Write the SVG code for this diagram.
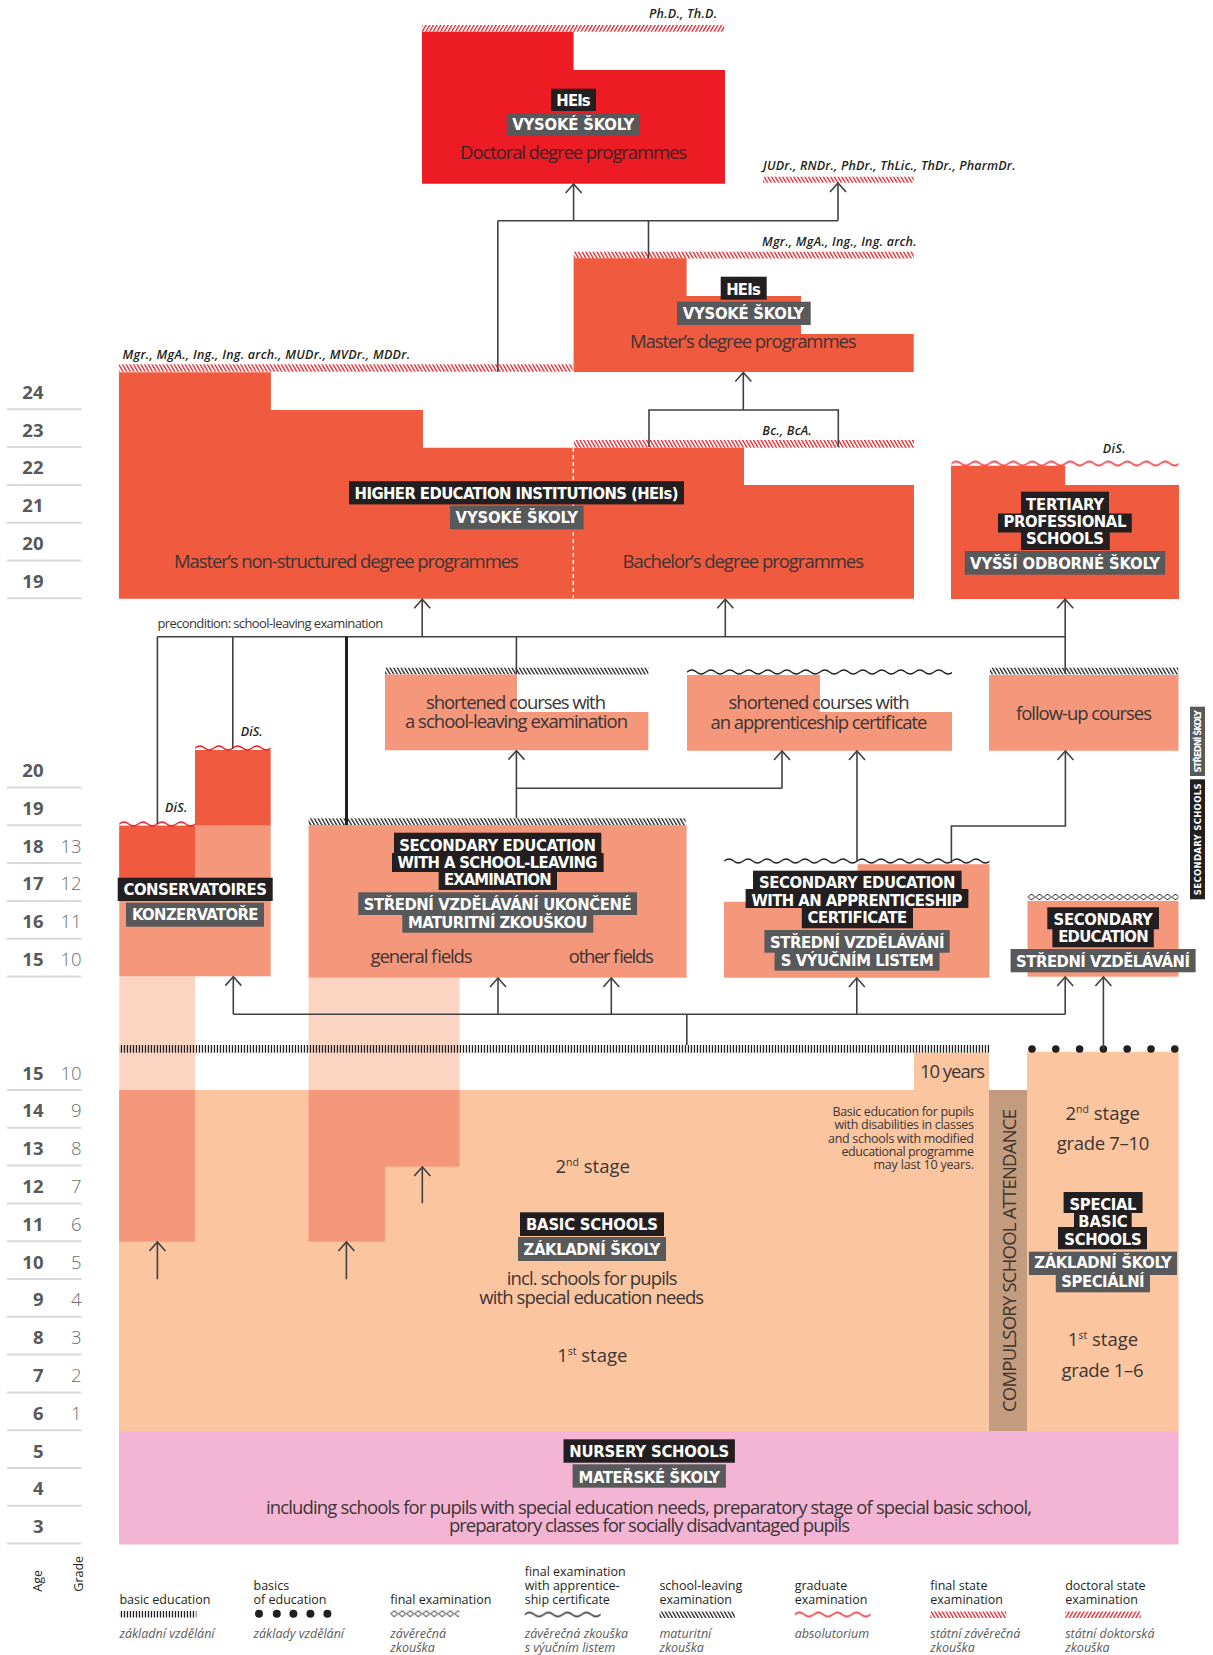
<svg xmlns="http://www.w3.org/2000/svg" width="1213" height="1655" viewBox="0 0 1213 1655">
<defs>
<style>
.ln{fill:none;stroke:#414042;stroke-width:1.6}
.tk{fill:none;stroke:#231f20;stroke-width:3}
.ar{marker-end:url(#ah)}
.bx{fill:#231f20}
.gb{fill:#58595b}
.lt{font-family:'DejaVu Sans Condensed','DejaVu Sans',sans-serif;font-stretch:condensed;font-weight:bold;font-size:16.5px;fill:#fff;text-anchor:middle}
.vt{font-family:'DejaVu Sans Condensed','DejaVu Sans',sans-serif;font-stretch:condensed;font-weight:bold;font-size:9.5px;fill:#fff;text-anchor:middle}
.bt{font-family:'Open Sans',sans-serif;font-weight:400;font-size:18.5px;fill:#3b3536;text-anchor:middle}
.sm{font-family:'Open Sans',sans-serif;font-weight:400;font-size:12.5px;fill:#3b3536;text-anchor:end}
.pc{font-family:'Open Sans',sans-serif;font-weight:400;font-size:13px;fill:#3b3536}
.dg{font-family:'Open Sans',sans-serif;font-style:italic;font-weight:600;font-size:12.5px;fill:#231f20}
.age{font-family:'Open Sans',sans-serif;font-weight:bold;font-size:18.5px;fill:#58595b;text-anchor:end}
.gr{font-family:'Open Sans',sans-serif;font-weight:300;font-size:18.5px;fill:#6d6e71;text-anchor:end}
.al{stroke:#d9d9d9;stroke-width:2}
.lg{font-family:'Open Sans',sans-serif;font-size:12.5px;fill:#231f20}
.lgi{font-family:'Open Sans',sans-serif;font-style:italic;font-size:12.5px;fill:#58595b}
.hei{fill:#f05a3e}
.sal{fill:#f5977a}
.pch{fill:#fbc5a0}
.lpc{fill:#fcd4c2}
</style>
<marker id="ah" markerUnits="userSpaceOnUse" markerWidth="20" markerHeight="20" viewBox="-10 -10 20 20" refX="0" refY="0" orient="auto" overflow="visible">
<path d="M-9,-8 L0,0 L-9,8" fill="none" stroke="#414042" stroke-width="1.6"/>
</marker>
<pattern id="hR" width="3.2" height="12" patternUnits="userSpaceOnUse" patternTransform="rotate(-30)"><rect width="1.3" height="12" fill="#ed1c24"/></pattern>
<pattern id="hD" width="3.2" height="12" patternUnits="userSpaceOnUse" patternTransform="rotate(30)"><rect width="1.3" height="12" fill="#ed1c24"/></pattern>
<pattern id="hK" width="3.2" height="12" patternUnits="userSpaceOnUse" patternTransform="rotate(-30)"><rect width="1.3" height="12" fill="#231f20"/></pattern>
<pattern id="wK" width="19" height="8" patternUnits="userSpaceOnUse"><path d="M-9.5,4 Q-4.75,8 0,4 T9.5,4 T19,4 T28.5,4" fill="none" stroke="#231f20" stroke-width="1.3"/></pattern>
<pattern id="wR" width="19" height="8" patternUnits="userSpaceOnUse"><path d="M-9.5,4 Q-4.75,8 0,4 T9.5,4 T19,4 T28.5,4" fill="none" stroke="#ed1c24" stroke-width="1.3"/></pattern>
<pattern id="dm" width="8" height="8" patternUnits="userSpaceOnUse"><path d="M0.5,4 L4,1 L7.5,4 L4,7 Z" fill="#fff" stroke="#231f20" stroke-width="1"/></pattern>
<pattern id="tc" width="3" height="8" patternUnits="userSpaceOnUse"><rect x="0.8" width="1.3" height="8" fill="#231f20"/></pattern>
</defs>
<rect width="1213" height="1655" fill="#fff"/>

<g id="age-scale">
<g class="al">
<line x1="7" y1="409.3" x2="81.5" y2="409.3"/><line x1="7" y1="447.1" x2="81.5" y2="447.1"/><line x1="7" y1="484.9" x2="81.5" y2="484.9"/><line x1="7" y1="522.7" x2="81.5" y2="522.7"/><line x1="7" y1="560.5" x2="81.5" y2="560.5"/><line x1="7" y1="598.3" x2="81.5" y2="598.3"/>
<line x1="7" y1="787.5" x2="81.5" y2="787.5"/><line x1="7" y1="825.3" x2="81.5" y2="825.3"/><line x1="7" y1="863.1" x2="81.5" y2="863.1"/><line x1="7" y1="900.9" x2="81.5" y2="900.9"/><line x1="7" y1="938.7" x2="81.5" y2="938.7"/><line x1="7" y1="976.5" x2="81.5" y2="976.5"/>
<line x1="7" y1="1090" x2="81.5" y2="1090"/><line x1="7" y1="1127.8" x2="81.5" y2="1127.8"/><line x1="7" y1="1165.6" x2="81.5" y2="1165.6"/><line x1="7" y1="1203.4" x2="81.5" y2="1203.4"/><line x1="7" y1="1241.2" x2="81.5" y2="1241.2"/><line x1="7" y1="1279" x2="81.5" y2="1279"/><line x1="7" y1="1316.8" x2="81.5" y2="1316.8"/><line x1="7" y1="1354.6" x2="81.5" y2="1354.6"/><line x1="7" y1="1392.4" x2="81.5" y2="1392.4"/><line x1="7" y1="1430.2" x2="81.5" y2="1430.2"/><line x1="7" y1="1468" x2="81.5" y2="1468"/><line x1="7" y1="1505.8" x2="81.5" y2="1505.8"/><line x1="7" y1="1543.6" x2="81.5" y2="1543.6"/>
</g>
<text class="age" x="43.5" y="398.8">24</text><text class="age" x="43.5" y="436.6">23</text><text class="age" x="43.5" y="474.4">22</text><text class="age" x="43.5" y="512.2">21</text><text class="age" x="43.5" y="550">20</text><text class="age" x="43.5" y="587.8">19</text>
<text class="age" x="43.5" y="777">20</text><text class="age" x="43.5" y="814.8">19</text><text class="age" x="43.5" y="852.6">18</text><text class="age" x="43.5" y="890.4">17</text><text class="age" x="43.5" y="928.2">16</text><text class="age" x="43.5" y="966">15</text>
<text class="gr" x="81.5" y="852.6">13</text><text class="gr" x="81.5" y="890.4">12</text><text class="gr" x="81.5" y="928.2">11</text><text class="gr" x="81.5" y="966">10</text>
<text class="age" x="43.5" y="1079.5">15</text><text class="age" x="43.5" y="1117.3">14</text><text class="age" x="43.5" y="1155.1">13</text><text class="age" x="43.5" y="1192.9">12</text><text class="age" x="43.5" y="1230.7">11</text><text class="age" x="43.5" y="1268.5">10</text><text class="age" x="43.5" y="1306.3">9</text><text class="age" x="43.5" y="1344.1">8</text><text class="age" x="43.5" y="1381.9">7</text><text class="age" x="43.5" y="1419.7">6</text><text class="age" x="43.5" y="1457.5">5</text><text class="age" x="43.5" y="1495.3">4</text><text class="age" x="43.5" y="1533.1">3</text>
<text class="gr" x="81.5" y="1079.5">10</text><text class="gr" x="81.5" y="1117.3">9</text><text class="gr" x="81.5" y="1155.1">8</text><text class="gr" x="81.5" y="1192.9">7</text><text class="gr" x="81.5" y="1230.7">6</text><text class="gr" x="81.5" y="1268.5">5</text><text class="gr" x="81.5" y="1306.3">4</text><text class="gr" x="81.5" y="1344.1">3</text><text class="gr" x="81.5" y="1381.9">2</text><text class="gr" x="81.5" y="1419.7">1</text>
</g>

<g id="nursery">
<rect x="119" y="1431" width="1059.6" height="113.5" fill="#f4b5d5"/>
<rect class="bx" x="563.5" y="1439.3" width="171.4" height="23.4"/>
<text class="lt" x="649.2" y="1456.7" textLength="160">NURSERY SCHOOLS</text>
<rect class="gb" x="572.6" y="1464.3" width="153.3" height="23.4"/>
<text class="lt" x="649.2" y="1482.5" textLength="141.5">MATEŘSKÉ ŠKOLY</text>
<text class="bt" x="649" y="1514" textLength="766">including schools for pupils with special education needs, preparatory stage of special basic school,</text>
<text class="bt" x="649.5" y="1531.7" textLength="401">preparatory classes for socially disadvantaged pupils</text>
</g>

<g id="basic-schools">
<rect class="pch" x="119" y="1090" width="870" height="341"/>
<rect class="pch" x="914" y="1052.7" width="75" height="38"/>
<rect class="lpc" x="119.3" y="976.3" width="75.7" height="113.7"/>
<rect class="lpc" x="308.6" y="977.7" width="150.9" height="112.3"/>
<rect class="sal" x="119.3" y="1090" width="75.7" height="151.7"/>
<rect class="sal" x="308.6" y="1090" width="150.9" height="76.7"/>
<rect class="sal" x="308.6" y="1166" width="76.5" height="75.7"/>
<rect x="119" y="1045" width="870.8" height="7.7" fill="url(#tc)"/>
<text class="bt" x="985" y="1078.3" style="text-anchor:end" textLength="65">10 years</text>
<text class="bt" x="592.7" y="1173" font-size="17.5">2<tspan font-size="10.5" dy="-7">nd</tspan><tspan dy="7"> stage</tspan></text>
<rect class="bx" x="520" y="1212.3" width="144" height="23.7"/>
<text class="lt" x="592" y="1229.8" textLength="132">BASIC SCHOOLS</text>
<rect class="gb" x="518" y="1237" width="148" height="24"/>
<text class="lt" x="592" y="1254.6" textLength="137">ZÁKLADNÍ ŠKOLY</text>
<text class="bt" x="592.2" y="1285" textLength="171">incl. schools for pupils</text>
<text class="bt" x="591.7" y="1303.5" textLength="225">with special education needs</text>
<text class="bt" x="592.3" y="1361.7" font-size="17.5">1<tspan font-size="10.5" dy="-7">st</tspan><tspan dy="7"> stage</tspan></text>
<text class="sm" x="974" y="1116" textLength="141.5">Basic education for pupils</text>
<text class="sm" x="974" y="1129.3" textLength="139.6">with disabilities in classes</text>
<text class="sm" x="974" y="1142.7" textLength="146">and schools with modified</text>
<text class="sm" x="974" y="1156" textLength="132.5">educational programme</text>
<text class="sm" x="974" y="1169" textLength="100.5">may last 10 years.</text>
</g>

<g id="compulsory">
<rect x="989" y="1090" width="38" height="341" fill="#c39b7f"/>
<text class="bt" transform="translate(1016,1260.5) rotate(-90)" x="0" y="0" font-size="21" style="fill:#3e342e" textLength="303">COMPULSORY SCHOOL ATTENDANCE</text>
</g>

<g id="special-basic">
<rect class="pch" x="1027" y="1051.7" width="151.6" height="379.3"/>
<g fill="#231f20"><circle cx="1032" cy="1049" r="3.8"/><circle cx="1055.8" cy="1049" r="3.8"/><circle cx="1079.6" cy="1049" r="3.8"/><circle cx="1103.4" cy="1049" r="3.8"/><circle cx="1127.2" cy="1049" r="3.8"/><circle cx="1151" cy="1049" r="3.8"/><circle cx="1174.8" cy="1049" r="3.8"/></g>
<text class="bt" x="1102.7" y="1120" font-size="17.5">2<tspan font-size="10.5" dy="-7">nd</tspan><tspan dy="7"> stage</tspan></text>
<text class="bt" x="1103" y="1150" textLength="92.7">grade 7–10</text>
<rect class="bx" x="1063.6" y="1192" width="79" height="21"/>
<rect class="bx" x="1074" y="1211" width="57.7" height="18"/>
<rect class="bx" x="1058" y="1227" width="89" height="22.3"/>
<text class="lt" x="1103" y="1210" textLength="67">SPECIAL</text>
<text class="lt" x="1103" y="1226.7" textLength="49.3">BASIC</text>
<text class="lt" x="1103" y="1245" textLength="77.4">SCHOOLS</text>
<rect class="gb" x="1028.9" y="1251.7" width="148.1" height="23.3"/>
<rect class="gb" x="1055.8" y="1274" width="94.2" height="18.3"/>
<text class="lt" x="1103" y="1268.3" textLength="137.5">ZÁKLADNÍ ŠKOLY</text>
<text class="lt" x="1103" y="1286.7" textLength="83.3">SPECIÁLNÍ</text>
<text class="bt" x="1103" y="1346" font-size="17.5">1<tspan font-size="10.5" dy="-7">st</tspan><tspan dy="7"> stage</tspan></text>
<text class="bt" x="1102.5" y="1376.7" textLength="82">grade 1–6</text>
</g>

<g id="conservatoires">
<rect class="sal" x="119.3" y="825.7" width="151.4" height="150.6"/>
<rect class="hei" x="195" y="750" width="75.7" height="75.7"/>
<rect class="hei" x="119.3" y="825.7" width="75.7" height="52.3"/>
<rect x="0" y="0" width="75.7" height="8" transform="translate(119.3,820)" fill="url(#wR)"/>
<rect x="0" y="0" width="75.7" height="8" transform="translate(195,744)" fill="url(#wR)"/>
<text class="dg" x="165" y="812.3" textLength="22.3">DiS.</text>
<text class="dg" x="240.7" y="736" textLength="22">DiS.</text>
<rect class="bx" x="117.7" y="877.7" width="155" height="23.3"/>
<text class="lt" x="195.2" y="895" textLength="143.4">CONSERVATOIRES</text>
<rect class="gb" x="126" y="902.7" width="138" height="24"/>
<text class="lt" x="195.2" y="920" textLength="126.6">KONZERVATOŘE</text>
</g>

<g id="secondary-school-leaving">
<rect x="308.6" y="818.3" width="377" height="6.9" fill="url(#hK)"/>
<rect class="sal" x="308.6" y="825" width="378" height="152.7"/>
<rect class="bx" x="394" y="832.7" width="207.3" height="22"/>
<rect class="bx" x="392" y="853" width="211.6" height="19"/>
<rect class="bx" x="438.7" y="871" width="118.3" height="19"/>
<text class="lt" x="497.6" y="851" textLength="196.7">SECONDARY EDUCATION</text>
<text class="lt" x="497.5" y="868.3" textLength="200">WITH A SCHOOL-LEAVING</text>
<text class="lt" x="497.8" y="885" textLength="107.6">EXAMINATION</text>
<rect class="gb" x="358.3" y="892.3" width="278.7" height="22.7"/>
<rect class="gb" x="402.3" y="914" width="191" height="18.7"/>
<text class="lt" x="497.7" y="910" textLength="268">STŘEDNÍ VZDĚLÁVÁNÍ UKONČENÉ</text>
<text class="lt" x="497.8" y="928.3" textLength="179.5">MATURITNÍ ZKOUŠKOU</text>
<text class="bt" x="421.5" y="963.3" textLength="102">general fields</text>
<text class="bt" x="611.3" y="963.3" textLength="85">other fields</text>
</g>

<g id="secondary-apprenticeship">
<rect x="0" y="0" width="265.3" height="8" transform="translate(724.2,857)" fill="url(#wK)"/>
<path class="sal" d="M724,901.7H857.6V864.3H989.5V977.7H724Z"/>
<rect class="bx" x="753" y="870.7" width="208.6" height="20"/>
<rect class="bx" x="745.6" y="889" width="222.8" height="19"/>
<rect class="bx" x="801.8" y="907" width="111.2" height="21.3"/>
<text class="lt" x="857.2" y="888.3" textLength="196.6">SECONDARY EDUCATION</text>
<text class="lt" x="856.9" y="906" textLength="211">WITH AN APPRENTICESHIP</text>
<text class="lt" x="857.4" y="922.7" textLength="99.6">CERTIFICATE</text>
<rect class="gb" x="764.4" y="930" width="185.3" height="22.7"/>
<rect class="gb" x="774.6" y="951.7" width="164.9" height="19"/>
<text class="lt" x="857.3" y="947.7" textLength="174.5">STŘEDNÍ VZDĚLÁVÁNÍ</text>
<text class="lt" x="857.2" y="965.7" textLength="153">S VÝUČNÍM LISTEM</text>
</g>

<g id="secondary-education">
<rect x="0" y="0" width="151" height="8" transform="translate(1027.5,893)" fill="url(#dm)"/>
<rect class="sal" x="1027.5" y="901" width="151" height="75.7"/>
<rect class="bx" x="1047.3" y="907.3" width="111.7" height="22"/>
<rect class="bx" x="1052.4" y="928" width="101.4" height="19.3"/>
<text class="lt" x="1103.2" y="925" textLength="99.3">SECONDARY</text>
<text class="lt" x="1103.4" y="942.3" textLength="90.5">EDUCATION</text>
<rect class="gb" x="1010.6" y="949" width="185" height="23.3"/>
<text class="lt" x="1103.1" y="966.7" textLength="174">STŘEDNÍ VZDĚLÁVÁNÍ</text>
</g>

<g id="secondary-schools-tag">
<rect class="gb" x="1190" y="706.7" width="15" height="69.3"/>
<rect class="bx" x="1190" y="779.3" width="15" height="120"/>
<text class="vt" transform="translate(1201,741.3) rotate(-90)" x="0" y="0" textLength="62.6">STŘEDNÍ ŠKOLY</text>
<text class="vt" transform="translate(1201,839.3) rotate(-90)" x="0" y="0" textLength="111.7">SECONDARY SCHOOLS</text>
</g>

<g id="shortened-school-leaving">
<rect x="385" y="667.7" width="263.4" height="6.8" fill="url(#hK)"/>
<path class="sal" d="M385,674.5H517V712H648.4V750.3H385Z"/>
<text class="bt" x="516" y="709.3" textLength="180">shortened courses with</text>
<text class="bt" x="516.5" y="728.3" textLength="223">a school-leaving examination</text>
</g>

<g id="shortened-apprenticeship">
<rect x="0" y="0" width="265" height="8" transform="translate(687,668)" fill="url(#wK)"/>
<path class="sal" d="M687,675H820V712H952V750.7H687Z"/>
<text class="bt" x="819" y="709.3" textLength="181">shortened courses with</text>
<text class="bt" x="819" y="728.6" textLength="217">an apprenticeship certificate</text>
</g>

<g id="follow-up">
<rect x="990" y="667.7" width="188.3" height="6.8" fill="url(#hK)"/>
<rect class="sal" x="989" y="675" width="189.5" height="75.7"/>
<text class="bt" x="1084" y="720" textLength="136">follow-up courses</text>
</g>

<g id="tertiary">
<rect x="0" y="0" width="227" height="8" transform="translate(951.5,459.5)" fill="url(#wR)"/>
<path class="hei" d="M951,465.7H1065.2V485H1179V599H951Z"/>
<text class="dg" x="1102.7" y="452.7" textLength="23">DiS.</text>
<rect class="bx" x="1021" y="491.7" width="88" height="23"/>
<rect class="bx" x="998" y="513.5" width="133.8" height="19"/>
<rect class="bx" x="1021" y="531" width="88.8" height="19"/>
<text class="lt" x="1065" y="510" textLength="78">TERTIARY</text>
<text class="lt" x="1065" y="527.3" textLength="122.8">PROFESSIONAL</text>
<text class="lt" x="1065" y="544.3" textLength="78">SCHOOLS</text>
<rect class="gb" x="964.8" y="551" width="200.4" height="23.7"/>
<text class="lt" x="1065" y="569.3" textLength="189.8">VYŠŠÍ ODBORNÉ ŠKOLY</text>
</g>

<g id="hei-bachelor-master">
<rect x="119" y="364.3" width="453.6" height="7.4" fill="url(#hR)"/>
<rect x="574" y="440" width="340" height="7.7" fill="url(#hR)"/>
<path class="hei" d="M119,372.3H270.9V410H423V447.7H744V485H914V598.7H119Z"/>
<line x1="573.3" y1="448" x2="573.3" y2="598" stroke="#fff" stroke-width="1.4" stroke-dasharray="4 3"/>
<text class="dg" x="122.6" y="359" textLength="287.4">Mgr., MgA., Ing., Ing. arch., MUDr., MVDr., MDDr.</text>
<text class="dg" x="762.3" y="435" textLength="49.4">Bc., BcA.</text>
<rect class="bx" x="349" y="481.2" width="335" height="23.2"/>
<text class="lt" x="516.6" y="499.3" textLength="324">HIGHER EDUCATION INSTITUTIONS (HEIs)</text>
<rect class="gb" x="450" y="505.7" width="133.6" height="23.6"/>
<text class="lt" x="516.8" y="523.3" textLength="122.5">VYSOKÉ ŠKOLY</text>
<text class="bt" x="346.4" y="567.7" textLength="344.8">Master’s non-structured degree programmes</text>
<text class="bt" x="743.3" y="568.3" textLength="241.5">Bachelor’s degree programmes</text>
</g>

<g id="hei-master">
<rect x="573.6" y="251.7" width="340.1" height="6.8" fill="url(#hR)"/>
<path class="hei" d="M573.6,258.3H686.6V296H801V334H913.7V372H573.6Z"/>
<text class="dg" x="762" y="246" textLength="154.6">Mgr., MgA., Ing., Ing. arch.</text>
<rect class="bx" x="720.7" y="276.7" width="46" height="23"/>
<text class="lt" x="743.5" y="295" textLength="34.7">HEIs</text>
<rect class="gb" x="677" y="301.7" width="133.7" height="23.3"/>
<text class="lt" x="743.4" y="319.3" textLength="121.3">VYSOKÉ ŠKOLY</text>
<text class="bt" x="743.3" y="348.3" textLength="226.7">Master’s degree programmes</text>
</g>

<g id="state-exam-judr">
<rect x="763" y="176.7" width="150.7" height="6" fill="url(#hR)"/>
<text class="dg" x="763" y="170" textLength="252.5">JUDr., RNDr., PhDr., ThLic., ThDr., PharmDr.</text>
</g>

<g id="hei-doctoral">
<rect x="422" y="25" width="302.3" height="6.7" fill="url(#hD)"/>
<path d="M422,31.7H573.6V70H725V183.7H422Z" fill="#ed1c24"/>
<text class="dg" x="649" y="18.3" textLength="68">Ph.D., Th.D.</text>
<rect class="bx" x="551" y="88.7" width="45" height="22.3"/>
<text class="lt" x="573.5" y="106" textLength="34.4">HEIs</text>
<rect class="gb" x="506.7" y="113" width="133" height="22.7"/>
<text class="lt" x="573.2" y="130.3" textLength="122">VYSOKÉ ŠKOLY</text>
<text class="bt" x="573.6" y="159" textLength="227" style="fill:#3a2324">Doctoral degree programmes</text>
</g>

<g id="connectors">
<text class="pc" x="157.4" y="628.3" textLength="225.8">precondition: school-leaving examination</text>
<path class="ln ar" d="M573.6,220.7V184"/>
<path class="ln" d="M497.8,220.7H838"/>
<path class="ln ar" d="M838,220.7V183"/>
<path class="ln" d="M648.5,220.7V258.3"/>
<path class="ln" d="M497.8,220.7V371.7"/>
<path class="ln ar" d="M743.3,410V372.5"/>
<path class="ln" d="M649,447V410H838.3V447"/>
<path class="ln" d="M157.4,636.7H1065.2"/>
<path class="ln ar" d="M422.2,636.7V599.3"/>
<path class="ln ar" d="M725.3,636.7V599.3"/>
<path class="ln ar" d="M1065.2,636.7V599.3"/>
<path class="ln" d="M1065.2,636.7V674"/>
<path class="ln" d="M157.4,636.7V824"/>
<path class="ln" d="M232.8,636.7V748.3"/>
<path class="tk" d="M346.5,636.7V825"/>
<path class="ln" d="M516.4,636.7V674"/>
<path class="ln ar" d="M516.4,818.3V750.6"/>
<path class="ln" d="M516.4,788.3H782"/>
<path class="ln ar" d="M782,788.3V751"/>
<path class="ln ar" d="M857,861V751"/>
<path class="ln ar" d="M951.4,863V826H1065.4V751"/>
<path class="ln" d="M233.3,1014.3H1065.2"/>
<path class="ln ar" d="M233.3,1014.3V976.6"/>
<path class="ln ar" d="M498,1014.3V978"/>
<path class="ln ar" d="M611.3,1014.3V978"/>
<path class="ln ar" d="M856.8,1014.3V978"/>
<path class="ln ar" d="M1065.2,1014.3V977"/>
<path class="ln" d="M686.8,1014.3V1045"/>
<path class="ln ar" d="M1103.4,1049V977"/>
<path class="ln ar" d="M157.4,1279.3V1242"/>
<path class="ln ar" d="M346.4,1279.3V1242"/>
<path class="ln ar" d="M422.3,1203.3V1167"/>
</g>

<g id="legend">
<text class="lg" transform="translate(42,1591.7) rotate(-90)" x="0" y="0" font-size="14">Age</text>
<text class="lg" transform="translate(82.5,1591.7) rotate(-90)" x="0" y="0" font-size="14">Grade</text>
<text class="lg" x="119.4" y="1604.3">basic education</text>
<rect x="119.4" y="1611" width="77" height="6.5" fill="url(#tc)"/>
<text class="lgi" x="119.4" y="1638.3">základní vzdělání</text>
<text class="lg" x="253.5" y="1590">basics</text>
<text class="lg" x="253.5" y="1604.3">of education</text>
<g fill="#231f20"><circle cx="259" cy="1613.7" r="4"/><circle cx="276.8" cy="1613.7" r="4"/><circle cx="293.4" cy="1613.7" r="4"/><circle cx="310.4" cy="1613.7" r="4"/><circle cx="327.4" cy="1613.7" r="4"/></g>
<text class="lgi" x="253.5" y="1638.3">základy vzdělání</text>
<text class="lg" x="390.3" y="1604.3">final examination</text>
<rect x="0" y="0" width="69" height="8" transform="translate(390.3,1609.7)" fill="url(#dm)"/>
<text class="lgi" x="390.3" y="1638.3">závěrečná</text>
<text class="lgi" x="390.3" y="1651.7">zkouška</text>
<text class="lg" x="524.7" y="1576">final examination</text>
<text class="lg" x="524.7" y="1590">with apprentice-</text>
<text class="lg" x="524.7" y="1604.3">ship certificate</text>
<rect x="0" y="0" width="76" height="8" transform="translate(524.7,1610.5)" fill="url(#wK)"/>
<text class="lgi" x="524.7" y="1638.3">závěrečná zkouška</text>
<text class="lgi" x="524.7" y="1651.7">s výučním listem</text>
<text class="lg" x="659.4" y="1590">school-leaving</text>
<text class="lg" x="659.4" y="1604.3">examination</text>
<rect x="659.4" y="1611.5" width="75.5" height="6.5" fill="url(#hK)"/>
<text class="lgi" x="659.4" y="1638.3">maturitní</text>
<text class="lgi" x="659.4" y="1651.7">zkouška</text>
<text class="lg" x="794.7" y="1590">graduate</text>
<text class="lg" x="794.7" y="1604.3">examination</text>
<rect x="0" y="0" width="76" height="8" transform="translate(794.7,1610.5)" fill="url(#wR)"/>
<text class="lgi" x="794.7" y="1638.3">absolutorium</text>
<text class="lg" x="930.3" y="1590">final state</text>
<text class="lg" x="930.3" y="1604.3">examination</text>
<rect x="930.3" y="1611.5" width="76" height="6.5" fill="url(#hR)"/>
<text class="lgi" x="930.3" y="1638.3">státní závěrečná</text>
<text class="lgi" x="930.3" y="1651.7">zkouška</text>
<text class="lg" x="1065.2" y="1590">doctoral state</text>
<text class="lg" x="1065.2" y="1604.3">examination</text>
<rect x="1065.2" y="1611.5" width="75.5" height="6.5" fill="url(#hD)"/>
<text class="lgi" x="1065.2" y="1638.3">státní doktorská</text>
<text class="lgi" x="1065.2" y="1651.7">zkouška</text>
</g>
</svg>
